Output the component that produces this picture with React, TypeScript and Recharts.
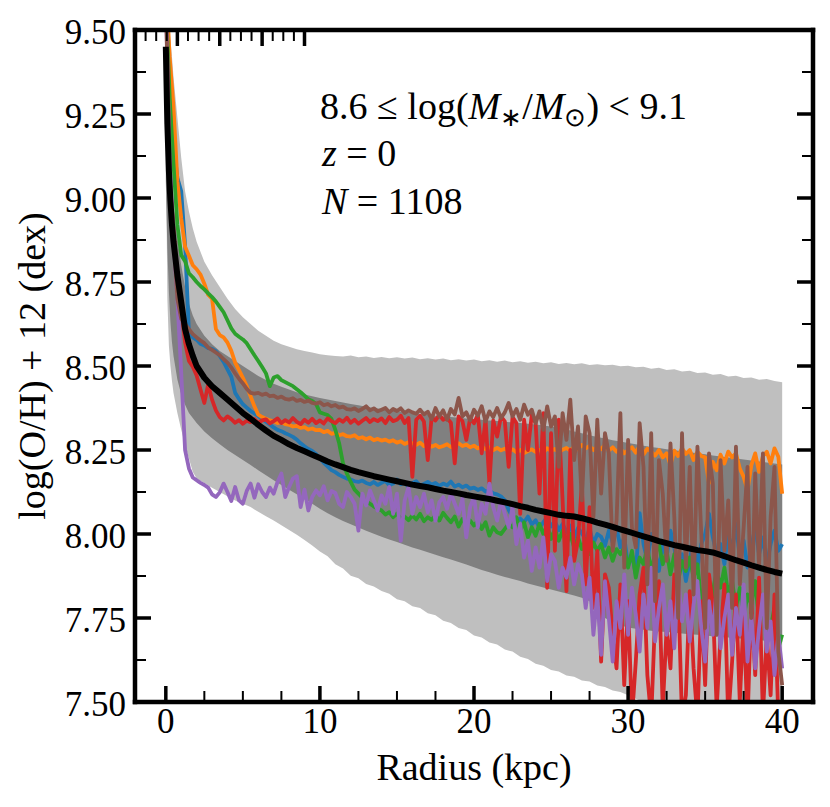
import { ComposedChart, Area, Line, XAxis, YAxis } from 'recharts';

// metallicity profiles, 8.6 <= log(M*/Msun) < 9.1, z = 0

const X_TICKS = [0, 2.5, 5, 7.5, 10, 12.5, 15, 17.5, 20, 22.5, 25, 27.5, 30, 32.5, 35, 37.5, 40];
const Y_TICKS = [7.5, 7.625, 7.75, 7.875, 8, 8.125, 8.25, 8.375, 8.5, 8.625, 8.75, 8.875, 9, 9.125, 9.25, 9.375, 9.5];

// radial bins of the individual galaxies (0.25 kpc)
const RADIUS = Array.from({ length: 161 }, (_, i) => i * 0.25);

const BLUE = [
  9.65, 9.35, 9.16, 9.06, 9.02, 8.86, 8.60, 8.585,
  8.578, 8.566, 8.561, 8.553, 8.551, 8.544, 8.530, 8.512,
  8.49, 8.468, 8.42, 8.402, 8.386, 8.376, 8.366, 8.359,
  8.351, 8.342, 8.334, 8.326, 8.317, 8.31, 8.306, 8.30,
  8.295, 8.289, 8.281, 8.27, 8.261, 8.253, 8.247, 8.238,
  8.226, 8.212, 8.201, 8.19, 8.184, 8.176, 8.17, 8.165,
  8.162, 8.157, 8.155, 8.159, 8.152, 8.148, 8.155, 8.146,
  8.152, 8.158, 8.145, 8.15, 8.162, 8.148, 8.153, 8.14,
  8.151, 8.157, 8.144, 8.149, 8.155, 8.147, 8.152, 8.143,
  8.15, 8.145, 8.156, 8.141, 8.147, 8.139, 8.144, 8.135,
  8.138, 8.131, 8.136, 8.126, 8.129, 8.121, 8.118, 8.112,
  8.10, 8.072, 8.05, 8.04, 8.046, 8.035, 8.052, 8.028,
  8.041, 8.018, 8.035, 8.05, 8.022, 8.038, 8.011, 8.03,
  8.006, 8.025, 7.99, 8.018, 8.002, 7.985, 8.015, 7.972,
  8.0, 7.992, 7.965, 8.01, 7.975, 8.02, 7.96, 7.99,
  7.905, 7.94, 7.88, 8.062, 7.97, 7.92, 8.0, 7.95,
  7.89, 7.97, 7.93, 8.01, 7.96, 7.88, 7.94, 7.86,
  7.92, 7.99, 7.9, 7.97, 8.0, 8.06, 7.99, 7.94,
  7.97, 7.91, 8.0, 7.95, 8.03, 7.93, 7.98, 7.9,
  7.96, 8.02, 7.94, 7.99, 7.91, 7.97, 8.01, 7.95,
  7.97,
];

const ORANGE = [
  9.65, 9.42, 9.27, 9.05, 8.94, 8.855, 8.828, 8.80,
  8.788, 8.772, 8.745, 8.712, 8.70, 8.61, 8.592, 8.585,
  8.57, 8.545, 8.51, 8.488, 8.465, 8.44, 8.41, 8.38,
  8.355, 8.348, 8.343, 8.338, 8.336, 8.33, 8.334, 8.327,
  8.325, 8.32, 8.322, 8.316, 8.318, 8.311, 8.314, 8.309,
  8.31, 8.303, 8.307, 8.298, 8.301, 8.294, 8.297, 8.291,
  8.29, 8.294, 8.285, 8.288, 8.282, 8.287, 8.279, 8.283,
  8.278, 8.281, 8.275, 8.279, 8.272, 8.276, 8.268, 8.273,
  8.27, 8.265, 8.272, 8.262, 8.268, 8.26, 8.265, 8.258,
  8.262, 8.267, 8.259, 8.264, 8.27, 8.262, 8.266, 8.258,
  8.263, 8.255, 8.261, 8.252, 8.258, 8.25, 8.256, 8.249,
  8.254, 8.246, 8.252, 8.243, 8.25, 8.241, 8.247, 8.252,
  8.244, 8.25, 8.242, 8.255, 8.247, 8.253, 8.244, 8.251,
  8.256, 8.248, 8.261, 8.252, 8.265, 8.255, 8.262, 8.25,
  8.26, 8.252, 8.266, 8.248, 8.258, 8.245, 8.255, 8.24,
  8.25, 8.258, 8.242, 8.262, 8.237, 8.254, 8.245, 8.233,
  8.25, 8.228, 8.24, 8.205, 8.248, 8.232, 8.255, 8.238,
  8.25, 8.22, 8.245, 8.232, 8.228, 8.151, 8.215, 8.19,
  8.236, 8.21, 8.245, 8.228, 8.24, 8.195, 8.17, 8.13,
  8.205, 8.24, 8.185, 8.232, 8.245, 8.21, 8.255, 8.23,
  8.12,
];

const GREEN = [
  9.6, 9.3, 9.1, 8.92, 8.83, 8.812, 8.776, 8.764,
  8.75, 8.738, 8.728, 8.716, 8.705, 8.692, 8.676, 8.66,
  8.636, 8.612, 8.596, 8.587, 8.579, 8.568, 8.55, 8.532,
  8.515, 8.497, 8.478, 8.44, 8.466, 8.47, 8.458, 8.452,
  8.446, 8.44, 8.431, 8.422, 8.412, 8.401, 8.396, 8.387,
  8.362, 8.358, 8.354, 8.343, 8.31, 8.27, 8.21, 8.18,
  8.155, 8.132, 8.12, 8.108, 8.098, 8.09, 8.082, 8.076,
  8.07, 8.058, 8.065, 8.05, 8.061, 8.045, 8.052, 8.041,
  8.055, 8.043, 8.06, 8.038, 8.05, 8.042, 8.056, 8.04,
  8.063, 8.048, 8.035, 8.052, 8.022, 8.045, 8.03, 8.04,
  8.025, 8.04, 8.015, 8.035, 7.995, 8.02, 8.005, 8.0,
  8.015, 8.03, 8.02, 8.05, 8.01, 8.035, 7.99, 8.02,
  7.995, 8.03, 8.0, 8.025, 7.985, 8.015, 7.98, 8.01,
  7.97, 8.0, 7.96, 7.99, 7.955, 7.985, 7.94, 7.975,
  7.95, 7.97, 7.93, 7.96, 7.92, 7.955, 7.94, 7.96,
  7.9, 7.95, 7.87, 7.93, 7.91, 7.96, 7.89, 7.94,
  7.97, 7.91, 7.95, 7.88, 7.94, 7.86, 7.92, 7.89,
  7.93, 7.87, 7.91, 7.8, 7.85, 7.76, 7.83, 7.89,
  7.84, 7.9, 7.82, 7.86, 7.78, 7.84, 7.75, 7.82,
  7.79, 7.86, 7.74, 7.8, 7.68, 7.72, 7.78, 7.66,
  7.7,
];

const RED = [
  9.65, 9.06, 8.9, 8.77, 8.67, 8.57, 8.515, 8.498,
  8.472, 8.43, 8.39, 8.445, 8.40, 8.368, 8.348, 8.338,
  8.35, 8.342, 8.331, 8.339, 8.328, 8.337, 8.333, 8.342,
  8.33, 8.338, 8.341, 8.329, 8.336, 8.344, 8.33, 8.339,
  8.332, 8.345, 8.334, 8.327, 8.34, 8.331, 8.343, 8.33,
  8.338, 8.329, 8.344, 8.336, 8.33, 8.341, 8.334, 8.346,
  8.331, 8.34, 8.328, 8.337, 8.345, 8.333, 8.342, 8.336,
  8.344, 8.33, 8.348, 8.336, 8.34, 8.352, 8.33, 8.345,
  8.17, 8.34, 8.352, 8.335, 8.22, 8.347, 8.338, 8.355,
  8.34, 8.345, 8.331, 8.21, 8.35, 8.336, 8.28, 8.345,
  8.33, 8.355, 8.24, 8.342, 8.15, 8.338, 8.29, 8.35,
  8.335, 8.2, 8.348, 8.33, 8.06, 8.34, 8.25, 8.355,
  8.33, 8.12, 8.36, 7.84, 8.3, 7.95, 8.34, 8.1,
  7.83, 8.25, 7.92, 7.98, 8.15, 7.85, 8.08, 7.78,
  7.95, 7.62, 7.88, 7.84, 7.7, 7.6, 7.85, 7.55,
  7.8, 7.45, 7.62, 7.82, 7.9, 7.58, 7.45, 7.75,
  7.86, 7.48, 7.72, 7.6, 7.88, 7.84, 7.45, 7.52,
  7.83, 7.6, 7.45, 7.8, 7.55, 7.88, 7.79, 7.48,
  7.7, 7.85, 7.45, 7.62, 7.82, 7.5, 7.76, 7.44,
  7.8, 7.58, 7.87, 7.46, 7.7, 7.52, 7.82, 7.45,
  7.48,
];

const PURPLE = [
  9.6, 9.1, 8.87, 8.70, 8.48, 8.25, 8.195, 8.168,
  8.16, 8.152, 8.146, 8.138, 8.118, 8.11, 8.124, 8.15,
  8.125, 8.098, 8.14, 8.1, 8.09, 8.128, 8.15, 8.108,
  8.148, 8.125, 8.11, 8.138, 8.12, 8.155, 8.18, 8.11,
  8.14, 8.165, 8.172, 8.08, 8.132, 8.07, 8.11, 8.13,
  8.115, 8.142, 8.1, 8.128, 8.122, 8.09, 8.08, 8.125,
  8.11, 8.09, 8.01, 8.12, 8.085, 8.13, 8.1, 8.07,
  8.115, 8.09, 8.14, 8.06, 8.12, 7.98, 8.1, 8.14,
  8.06, 8.11, 8.08, 8.12, 8.065, 8.1, 8.04, 8.095,
  8.11, 8.075, 8.12, 8.09, 8.06, 8.105, 7.99, 8.08,
  8.11, 8.02, 8.09, 8.06, 8.15, 8.08, 8.04, 8.1,
  8.06, 8.02, 8.08, 7.97, 8.03, 7.93, 7.98, 7.89,
  7.96, 7.9, 7.99, 7.86, 7.94, 7.92, 7.84, 7.9,
  7.87, 7.93, 7.85, 7.91, 7.88, 7.78, 7.87, 7.7,
  7.82, 7.64, 7.86, 7.75, 7.62, 7.8, 7.72, 7.88,
  7.7, 7.84, 7.76, 7.65, 7.82, 7.72, 7.9, 7.68,
  7.78, 7.85, 7.7, 7.8, 7.66, 7.87, 7.74, 7.82,
  7.68, 7.79, 7.86, 7.72, 7.62, 7.8, 7.7, 7.84,
  7.66, 7.75, 7.82, 7.64, 7.78, 7.7, 7.85, 7.62,
  7.76, 7.6, 7.72, 7.82, 7.65, 7.74, 7.58, 7.7,
  7.6,
];

const BROWN = [
  9.6, 9.05, 8.88, 8.70, 8.64, 8.625, 8.61, 8.595,
  8.585, 8.576, 8.568, 8.555, 8.548, 8.54, 8.532, 8.52,
  8.51, 8.495, 8.478, 8.462, 8.448, 8.432, 8.42, 8.418,
  8.42, 8.414, 8.418, 8.41, 8.412, 8.405, 8.409, 8.402,
  8.40, 8.404, 8.396, 8.399, 8.393, 8.397, 8.39, 8.388,
  8.392, 8.383, 8.387, 8.38, 8.384, 8.376, 8.379, 8.372,
  8.37, 8.374, 8.366, 8.372, 8.38, 8.368, 8.374, 8.365,
  8.37, 8.375, 8.362, 8.372, 8.366, 8.374, 8.36, 8.368,
  8.362, 8.358, 8.37, 8.356, 8.364, 8.342, 8.375, 8.35,
  8.368, 8.34, 8.372, 8.356, 8.405, 8.35, 8.362, 8.338,
  8.37, 8.352, 8.38, 8.335, 8.365, 8.348, 8.375, 8.345,
  8.362, 8.39, 8.35, 8.372, 8.34, 8.385, 8.355, 8.37,
  8.33, 8.365, 8.31, 8.38, 8.32, 8.35, 8.2, 8.36,
  8.28, 8.4, 8.22, 8.32, 8.1, 8.35, 8.3, 8.05,
  8.34, 8.12, 8.3, 8.24, 7.95, 8.04, 8.36, 7.9,
  8.28, 8.02, 7.96, 8.33, 8.2, 7.85, 8.3, 7.8,
  8.22, 8.12, 7.92, 8.27, 8.05, 7.75, 8.3, 7.9,
  8.2, 7.82, 8.26, 8.0, 7.72, 8.24, 8.15, 7.7,
  8.22, 7.95, 8.1, 7.78, 8.26, 7.85, 8.02, 8.2,
  7.75, 8.18, 7.9, 8.24, 7.72, 8.05, 8.2, 7.65,
  7.55,
];

// stacked profile: median and percentile bands
const BAND_R = [0, 0.1, 0.2, 0.3, 0.4, 0.5, 0.75, 1, 1.25, 1.5, 1.75, ...Array.from({ length: 77 }, (_, i) => 2 + i * 0.5)];

const MEDIAN = [
  9.45, 9.22, 9.08, 8.99, 8.92, 8.87, 8.77, 8.69, 8.61, 8.565, 8.53,
  8.50, 8.465, 8.44, 8.42, 8.40, 8.38, 8.36, 8.343,
  8.325, 8.308, 8.292, 8.28, 8.267, 8.256, 8.246, 8.236,
  8.226, 8.216, 8.207, 8.199, 8.191, 8.184, 8.178, 8.172,
  8.167, 8.162, 8.157, 8.152, 8.147, 8.143, 8.139, 8.134,
  8.129, 8.125, 8.121, 8.116, 8.112, 8.108, 8.104, 8.099,
  8.094, 8.089, 8.083, 8.078, 8.072, 8.067, 8.062, 8.057,
  8.054, 8.052, 8.047, 8.041, 8.034, 8.028, 8.021, 8.014,
  8.007, 8.0, 7.993, 7.986, 7.979, 7.973, 7.967, 7.962,
  7.957, 7.952, 7.949, 7.945, 7.938, 7.93, 7.922, 7.915,
  7.907, 7.9, 7.893, 7.887,
  7.882,
];

const OUTER_HI = [
  9.62, 9.58, 9.52, 9.47, 9.42, 9.36, 9.24, 9.12, 9.02, 8.96, 8.91,
  8.87, 8.81, 8.77, 8.735, 8.70, 8.67, 8.645, 8.625,
  8.605, 8.59, 8.575, 8.565, 8.557, 8.55, 8.545, 8.54,
  8.535, 8.532, 8.53, 8.528, 8.531, 8.526, 8.528, 8.524,
  8.527, 8.523, 8.526, 8.522, 8.525, 8.52, 8.523, 8.519,
  8.522, 8.517, 8.52, 8.516, 8.519, 8.514, 8.517, 8.513,
  8.516, 8.511, 8.514, 8.51, 8.513, 8.508, 8.511, 8.506,
  8.509, 8.505, 8.508, 8.503, 8.505, 8.502, 8.504, 8.499,
  8.501, 8.496, 8.498, 8.492, 8.495, 8.488, 8.49, 8.484,
  8.486, 8.479, 8.481, 8.474, 8.476, 8.469, 8.471, 8.464,
  8.466, 8.459, 8.461, 8.455,
  8.452,
];

const OUTER_LO = [
  9.2, 8.7, 8.56, 8.5, 8.455, 8.42, 8.36, 8.31, 8.265, 8.225, 8.185,
  8.165, 8.152, 8.138, 8.125, 8.112, 8.1, 8.09, 8.08,
  8.066, 8.053, 8.04, 8.026, 8.012, 7.998, 7.982, 7.966,
  7.948, 7.934, 7.91, 7.897, 7.876, 7.868, 7.851, 7.844,
  7.83, 7.822, 7.806, 7.8, 7.785, 7.78, 7.764, 7.758,
  7.742, 7.735, 7.72, 7.714, 7.698, 7.692, 7.677, 7.671,
  7.656, 7.65, 7.635, 7.628, 7.614, 7.608, 7.595, 7.591,
  7.579, 7.575, 7.564, 7.561, 7.549, 7.545, 7.534, 7.53,
  7.52, 7.51, 7.5, 7.49, 7.48, 7.47, 7.46, 7.45,
  7.44, 7.43, 7.42, 7.41, 7.4, 7.39, 7.38, 7.37,
  7.36, 7.35, 7.34, 7.33,
  7.32,
];

const INNER_HI = [
  9.35, 9.25, 9.16, 9.09, 9.03, 8.98, 8.88, 8.8, 8.735, 8.685, 8.65,
  8.625, 8.59, 8.565, 8.545, 8.53, 8.515, 8.5, 8.485,
  8.47, 8.458, 8.447, 8.438, 8.43, 8.422, 8.415, 8.41,
  8.405, 8.4, 8.396, 8.391, 8.387, 8.383, 8.379, 8.375,
  8.372, 8.369, 8.366, 8.363, 8.36, 8.357, 8.355, 8.352,
  8.35, 8.348, 8.346, 8.344, 8.342, 8.34, 8.338, 8.336,
  8.334, 8.332, 8.33, 8.328, 8.326, 8.323, 8.32, 8.316,
  8.311, 8.305, 8.3, 8.294, 8.289, 8.284, 8.279, 8.275,
  8.271, 8.267, 8.263, 8.259, 8.256, 8.252, 8.249, 8.246,
  8.243, 8.24, 8.237, 8.234, 8.231, 8.228, 8.225, 8.222,
  8.219, 8.216, 8.213, 8.21,
  8.207,
];

const INNER_LO = [
  9.05, 8.85, 8.72, 8.63, 8.57, 8.53, 8.46, 8.415, 8.385, 8.36, 8.345,
  8.33, 8.305, 8.285, 8.267, 8.25, 8.235, 8.22, 8.205,
  8.19, 8.175, 8.16, 8.146, 8.132, 8.118, 8.104, 8.09,
  8.075, 8.062, 8.05, 8.039, 8.029, 8.019, 8.01, 8.001,
  7.992, 7.984, 7.976, 7.968, 7.96, 7.953, 7.946, 7.938,
  7.931, 7.924, 7.917, 7.909, 7.901, 7.893, 7.886, 7.879,
  7.872, 7.866, 7.86, 7.853, 7.847, 7.841, 7.835, 7.829,
  7.823, 7.817, 7.81, 7.8, 7.772, 7.75, 7.738, 7.728,
  7.722, 7.718, 7.715, 7.712, 7.71, 7.708, 7.706, 7.704,
  7.702, 7.7, 7.698, 7.696, 7.694, 7.692, 7.69, 7.688,
  7.686, 7.684, 7.682, 7.68,
  7.678,
];

const SERIES = [
  { key: 'blue', values: BLUE, color: '#1f77b4' },
  { key: 'orange', values: ORANGE, color: '#ff7f0e' },
  { key: 'green', values: GREEN, color: '#2ca02c' },
  { key: 'red', values: RED, color: '#d62728' },
  { key: 'purple', values: PURPLE, color: '#9467bd' },
  { key: 'brown', values: BROWN, color: '#8c564b' },
];

const lineRows = RADIUS.map((r, i) => {
  const row: Record<string, number> = { r };
  SERIES.forEach((s) => { row[s.key] = s.values[i]; });
  return row;
});

const bandRows = BAND_R.map((r, i) => ({
  r,
  outer: [OUTER_LO[i], OUTER_HI[i]],
  inner: [INNER_LO[i], INNER_HI[i]],
  median: MEDIAN[i],
}));

const TXT = { fontFamily: "'Liberation Serif'" };
const FONT_CSS = `
.cm, .cm tspan { font-family: 'Liberation Serif', Tinos, 'Times New Roman', serif !important; }
`;
const SPINE = { stroke: '#000', strokeWidth: 4.5, strokeLinecap: 'square' as const };

const isMajorX = (v: number) => Math.abs(v % 10) < 1e-6;
const isMajorY = (v: number) => Math.abs(v * 4 - Math.round(v * 4)) < 1e-6;

function BottomTick({ x, y, payload }: any) {
  const major = isMajorX(payload.value);
  return (
    <g>
      <line x1={x} y1={y} x2={x} y2={y - (major ? 16 : 11)} stroke="#000" strokeWidth={major ? 3.5 : 2} />
      {major && (
        <text className="cm" x={x} y={y + 31} textAnchor="middle" fontSize={35} style={TXT} fill="#000">
          {String(payload.value)}
        </text>
      )}
    </g>
  );
}

function TopTick({ x, y, payload }: any) {
  const major = isMajorX(payload.value);
  return <line x1={x} y1={y} x2={x} y2={y + (major ? 16 : 11)} stroke="#000" strokeWidth={major ? 3.5 : 2} />;
}

function LeftTick({ x, y, payload }: any) {
  const major = isMajorY(payload.value);
  return (
    <g>
      <line x1={x} y1={y} x2={x + (major ? 16 : 11)} y2={y} stroke="#000" strokeWidth={major ? 3.5 : 2} />
      {major && (
        <text className="cm" x={x - 9} y={y + 14} textAnchor="end" fontSize={35} style={TXT} fill="#000">
          {payload.value.toFixed(2)}
        </text>
      )}
    </g>
  );
}

function RightTick({ x, y, payload }: any) {
  const major = isMajorY(payload.value);
  return <line x1={x} y1={y} x2={x - (major ? 16 : 11)} y2={y} stroke="#000" strokeWidth={major ? 3.5 : 2} />;
}

export default function App() {
  return (
    <div style={{ position: 'absolute', left: 0, top: 0, width: 830, height: 807, background: '#fff' }}>
      <style>{FONT_CSS}</style>
      <ComposedChart width={830} height={807} data={lineRows} margin={{ top: 20, right: 7, bottom: 45, left: 10 }}>
        <XAxis
          xAxisId="bottom"
          dataKey="r"
          type="number"
          domain={[-2, 42]}
          allowDataOverflow
          ticks={X_TICKS}
          interval={0}
          tickSize={0}
          tickMargin={0}
          tickLine={false}
          tick={(p: any) => <BottomTick {...p} />}
          axisLine={SPINE}
          height={60}
        />
        <XAxis
          xAxisId="top"
          orientation="top"
          type="number"
          domain={[-2, 42]}
          allowDataOverflow
          ticks={X_TICKS}
          interval={0}
          tickSize={0}
          tickMargin={0}
          tickLine={false}
          tick={(p: any) => <TopTick {...p} />}
          axisLine={SPINE}
          height={10}
        />
        <YAxis
          yAxisId="left"
          type="number"
          domain={[7.5, 9.5]}
          allowDataOverflow
          ticks={Y_TICKS}
          interval={0}
          tickSize={0}
          tickMargin={0}
          tickLine={false}
          tick={(p: any) => <LeftTick {...p} />}
          axisLine={SPINE}
          width={125}
        />
        <YAxis
          yAxisId="right"
          orientation="right"
          type="number"
          domain={[7.5, 9.5]}
          allowDataOverflow
          ticks={Y_TICKS}
          interval={0}
          tickSize={0}
          tickMargin={0}
          tickLine={false}
          tick={(p: any) => <RightTick {...p} />}
          axisLine={SPINE}
          width={10}
        />
        <Area
          xAxisId="bottom"
          yAxisId="left"
          data={bandRows}
          dataKey="outer"
          type="linear"
          stroke="none"
          fill="#bfbfbf"
          fillOpacity={1}
          dot={false}
          activeDot={false}
          isAnimationActive={false}
        />
        <Area
          xAxisId="bottom"
          yAxisId="left"
          data={bandRows}
          dataKey="inner"
          type="linear"
          stroke="none"
          fill="#808080"
          fillOpacity={1}
          dot={false}
          activeDot={false}
          isAnimationActive={false}
        />
        {SERIES.map((s) => (
          <Line
            key={s.key}
            xAxisId="bottom"
            yAxisId="left"
            dataKey={s.key}
            type="linear"
            stroke={s.color}
            strokeWidth={3.8}
            strokeLinejoin="round"
            dot={false}
            activeDot={false}
            isAnimationActive={false}
          />
        ))}
        <Line
          xAxisId="bottom"
          yAxisId="left"
          data={bandRows}
          dataKey="median"
          type="linear"
          stroke="#000"
          strokeWidth={6}
          strokeLinejoin="round"
          dot={false}
          activeDot={false}
          isAnimationActive={false}
        />
      </ComposedChart>
      <svg
        width={830}
        height={807}
        style={{ position: 'absolute', left: 0, top: 0, pointerEvents: 'none' }}
        fill="#000"
      >
        <text className="cm" x={45} y={366} transform="rotate(-90 45 366)" textAnchor="middle" fontSize={38} style={TXT}>
          log(O/H) + 12 (dex)
        </text>
        <text className="cm" x={474} y={780} textAnchor="middle" fontSize={38} style={TXT}>
          Radius (kpc)
        </text>
        <text className="cm" x={320} y={119} fontSize={38} style={TXT}>
          8.6 ≤ log(
          <tspan fontStyle="italic">M</tspan>
          <tspan fontSize={26} dy={7}>∗</tspan>
          <tspan dy={-7}>/</tspan>
          <tspan fontStyle="italic">M</tspan>
          <tspan fontSize={26} dy={7}>⊙</tspan>
          <tspan dy={-7}>) &lt; 9.1</tspan>
        </text>
        <text className="cm" x={322} y={166} fontSize={38} style={TXT}>
          <tspan fontStyle="italic">z</tspan> = 0
        </text>
        <text className="cm" x={322} y={214} fontSize={38} style={TXT}>
          <tspan fontStyle="italic">N</tspan> = 1108
        </text>
      </svg>
    </div>
  );
}
